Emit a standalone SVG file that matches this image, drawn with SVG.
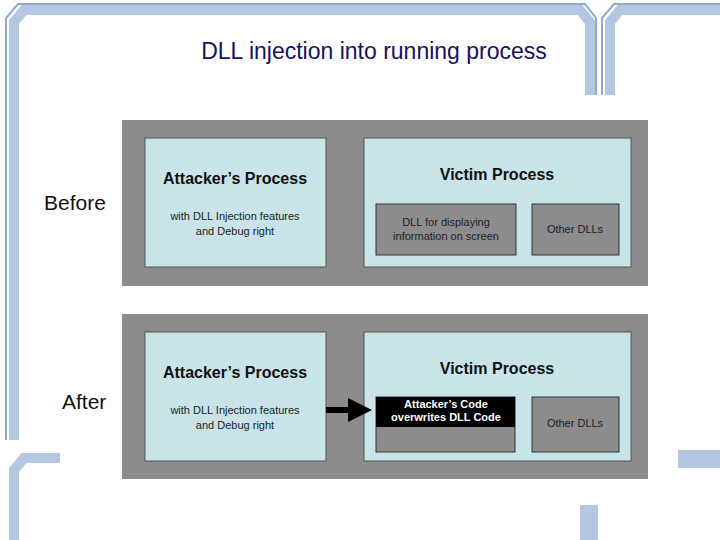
<svg xmlns="http://www.w3.org/2000/svg" width="720" height="540" viewBox="0 0 720 540">
<defs>
<style>
.fr{fill:none;stroke:#b4c6e0;stroke-width:10}
.fr2{fill:none;stroke:#8ea9cf;stroke-width:2}
.panel{fill:#8c8c8c}
.box{fill:#c8e4e8;stroke:#555;stroke-width:1}
.dll{fill:#8c8c8c;stroke:#333;stroke-width:1}
.t{font-family:"Liberation Sans",Arial,sans-serif}
.h{font-weight:bold;font-size:16px;fill:#111;text-anchor:middle}
.s{font-size:11px;fill:#222;text-anchor:middle}
.lbl{font-size:21px;fill:#111}
</style>
<marker id="ah" markerWidth="4" markerHeight="4" refX="3" refY="2" orient="auto" markerUnits="strokeWidth"><path d="M0,0L4,2L0,4z" fill="#000"/></marker>
</defs>
<rect width="720" height="540" fill="#fff"/>
<g id="frame">
<path class="fr" d="M14,440 V22 L24,10 H580 L590,22 V95"/>
<path class="fr2" d="M6,440 V18 L18,4 H585 L596,18 V95"/>
<path class="fr" d="M610,95 V22 L620,10 H720"/>
<path class="fr2" d="M602,95 V18 L614,4 H720"/>
<path class="fr" d="M14,540 V470 L24,458 H60"/>
<rect x="580" y="505" width="18" height="35" fill="#b4c6e0"/>
<rect x="678" y="450" width="42" height="18" fill="#b4c6e0"/>
</g>
<text class="t" x="374" y="59" text-anchor="middle" font-size="23" fill="#1a1060">DLL injection into running process</text>
<g id="before">
<rect class="panel" x="122" y="120" width="526" height="166"/>
<text class="t lbl" x="44" y="210">Before</text>
<g id="attacker1"><rect class="box" x="145" y="138" width="181" height="129"/>
<text class="t h" x="235" y="184">Attacker’s Process</text>
<text class="t s" x="235" y="220">with DLL Injection features</text>
<text class="t s" x="235" y="235">and Debug right</text></g>
<g id="victim1"><rect class="box" x="364" y="138" width="267" height="129"/>
<text class="t h" x="497" y="180">Victim Process</text></g>
<g id="dll1"><rect class="dll" x="376" y="204" width="140" height="51"/>
<text class="t s" x="446" y="226">DLL for displaying</text>
<text class="t s" x="446" y="240">information on screen</text></g>
<g id="other1"><rect class="dll" x="532" y="204" width="87" height="51"/>
<text class="t s" x="575" y="233">Other DLLs</text></g>
</g>
<g id="after">
<rect class="panel" x="122" y="314" width="526" height="165"/>
<text class="t lbl" x="62" y="409">After</text>
<g id="attacker2"><rect class="box" x="145" y="332" width="181" height="129"/>
<text class="t h" x="235" y="378">Attacker’s Process</text>
<text class="t s" x="235" y="414">with DLL Injection features</text>
<text class="t s" x="235" y="429">and Debug right</text></g>
<g id="victim2"><rect class="box" x="364" y="332" width="267" height="129"/>
<text class="t h" x="497" y="374">Victim Process</text></g>
<g id="dll2"><rect class="dll" x="376" y="397" width="139" height="55"/>
<rect x="376" y="397" width="139" height="30" fill="#000"/>
<text class="t" x="446" y="408" text-anchor="middle" font-size="11" font-weight="bold" fill="#fff">Attacker’s Code</text>
<text class="t" x="446" y="421" text-anchor="middle" font-size="11" font-weight="bold" fill="#fff">overwrites DLL Code</text></g>
<g id="other2"><rect class="dll" x="532" y="397" width="87" height="55"/>
<text class="t s" x="575" y="427">Other DLLs</text></g>
</g>
<g id="connectors">
<line x1="326" y1="410" x2="366" y2="410" stroke="#000" stroke-width="6" marker-end="url(#ah)"/>
</g>
</svg>
